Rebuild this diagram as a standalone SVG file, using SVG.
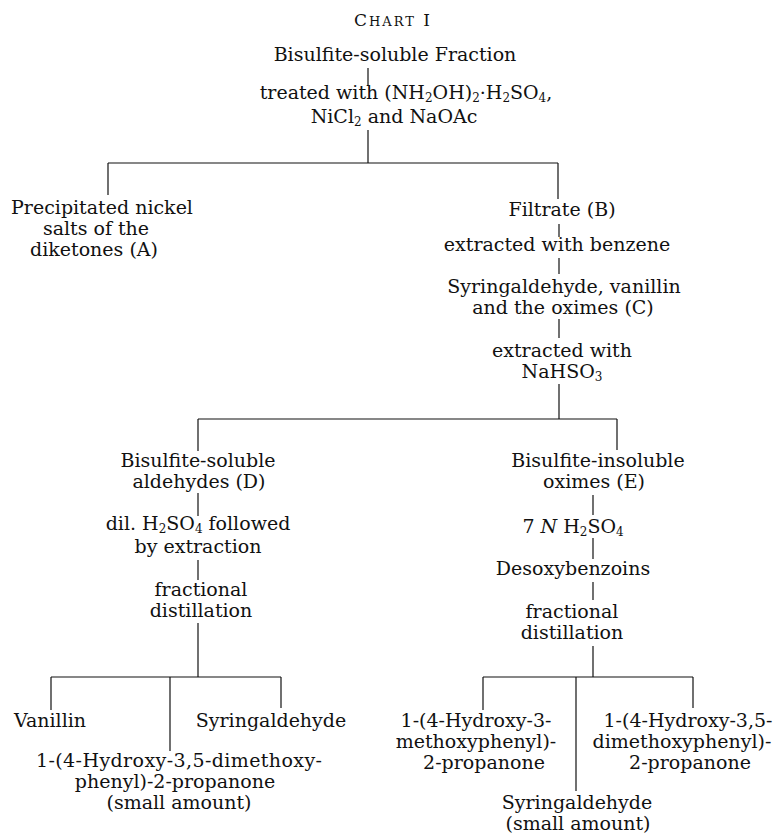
<svg xmlns="http://www.w3.org/2000/svg" width="777" height="835" viewBox="0 0 777 835">
<style>
text{font-family:"DejaVu Serif","Liberation Serif",serif;font-size:19px;fill:#111;text-anchor:middle}
.s{font-size:12px}
.c line{stroke:#111;stroke-width:1.2}
</style>
<rect width="777" height="835" fill="#fff"/>
<g id="title"><text x="393" y="26" style="letter-spacing:2px"><tspan font-size="17">C</tspan><tspan font-size="13">HART</tspan><tspan font-size="17"> I</tspan></text></g>
<g id="n-start"><text x="395" y="61">Bisulfite-soluble Fraction</text></g>
<g id="n-treat"><text x="406" y="99">treated with (NH<tspan class="s" dy="3">2</tspan><tspan dy="-3">OH)</tspan><tspan class="s" dy="3">2</tspan><tspan dy="-3">·H</tspan><tspan class="s" dy="3">2</tspan><tspan dy="-3">SO</tspan><tspan class="s" dy="3">4</tspan><tspan dy="-3">,</tspan></text>
<text x="394" y="123">NiCl<tspan class="s" dy="3">2</tspan><tspan dy="-3"> and NaOAc</tspan></text></g>
<g id="n-A"><text x="102" y="214">Precipitated nickel</text><text x="96" y="235">salts of the</text><text x="94" y="256">diketones (A)</text></g>
<g id="n-B"><text x="562" y="216">Filtrate (B)</text></g>
<g id="n-benz"><text x="557" y="251">extracted with benzene</text></g>
<g id="n-C"><text x="564" y="293">Syringaldehyde, vanillin</text><text x="563" y="314">and the oximes (C)</text></g>
<g id="n-bis"><text x="562" y="357">extracted with</text><text x="562" y="378">NaHSO<tspan class="s" dy="3">3</tspan></text></g>
<g id="n-D"><text x="198" y="467">Bisulfite-soluble</text><text x="199" y="488">aldehydes (D)</text></g>
<g id="n-E"><text x="598" y="467">Bisulfite-insoluble</text><text x="594" y="488">oximes (E)</text></g>
<g id="n-dil"><text x="198" y="530">dil. H<tspan class="s" dy="3">2</tspan><tspan dy="-3">SO</tspan><tspan class="s" dy="3">4</tspan><tspan dy="-3"> followed</tspan></text><text x="198" y="553">by extraction</text></g>
<g id="n-7N"><text x="573" y="533">7 <tspan font-style="italic">N</tspan> H<tspan class="s" dy="3">2</tspan><tspan dy="-3">SO</tspan><tspan class="s" dy="3">4</tspan></text></g>
<g id="n-deso"><text x="573" y="575">Desoxybenzoins</text></g>
<g id="n-fd1"><text x="201" y="596">fractional</text><text x="201" y="617">distillation</text></g>
<g id="n-fd2"><text x="572" y="618">fractional</text><text x="572" y="639">distillation</text></g>
<g id="n-van"><text x="50" y="727">Vanillin</text></g>
<g id="n-syr1"><text x="271" y="727">Syringaldehyde</text></g>
<g id="n-hd1"><text x="179" y="767" textLength="286" lengthAdjust="spacing">1-(4-Hydroxy-3,5-dimethoxy-</text><text x="175" y="788">phenyl)-2-propanone</text><text x="179" y="809">(small amount)</text></g>
<g id="n-hm"><text x="476" y="727">1-(4-Hydroxy-3-</text><text x="476" y="748">methoxyphenyl)-</text><text x="484" y="769">2-propanone</text></g>
<g id="n-hd2"><text x="688" y="727">1-(4-Hydroxy-3,5-</text><text x="682" y="748">dimethoxyphenyl)-</text><text x="690" y="769">2-propanone</text></g>
<g id="n-syr2"><text x="577" y="809">Syringaldehyde</text><text x="578" y="830">(small amount)</text></g>
<g id="connectors" class="c">
<line x1="368" y1="68" x2="368" y2="86"/>
<line x1="368" y1="130" x2="368" y2="163"/>
<line x1="108" y1="163" x2="558" y2="163"/>
<line x1="108" y1="163" x2="108" y2="195"/>
<line x1="558" y1="163" x2="558" y2="199"/>
<line x1="559" y1="224" x2="559" y2="237"/>
<line x1="559" y1="258" x2="559" y2="274"/>
<line x1="559" y1="319" x2="559" y2="338"/>
<line x1="559" y1="384" x2="559" y2="419"/>
<line x1="198" y1="419" x2="617" y2="419"/>
<line x1="198" y1="419" x2="198" y2="451"/>
<line x1="617" y1="419" x2="617" y2="450"/>
<line x1="198" y1="493" x2="198" y2="516"/>
<line x1="593" y1="495" x2="593" y2="515"/>
<line x1="198" y1="560" x2="198" y2="580"/>
<line x1="593" y1="538" x2="593" y2="559"/>
<line x1="593" y1="582" x2="593" y2="600"/>
<line x1="198" y1="623" x2="198" y2="677"/>
<line x1="593" y1="646" x2="593" y2="677"/>
<line x1="51" y1="677" x2="281" y2="677"/>
<line x1="51" y1="677" x2="51" y2="710"/>
<line x1="170" y1="677" x2="170" y2="751"/>
<line x1="281" y1="677" x2="281" y2="708"/>
<line x1="483" y1="677" x2="693" y2="677"/>
<line x1="483" y1="677" x2="483" y2="710"/>
<line x1="576" y1="677" x2="576" y2="791"/>
<line x1="693" y1="677" x2="693" y2="708"/>
</g>
</svg>
